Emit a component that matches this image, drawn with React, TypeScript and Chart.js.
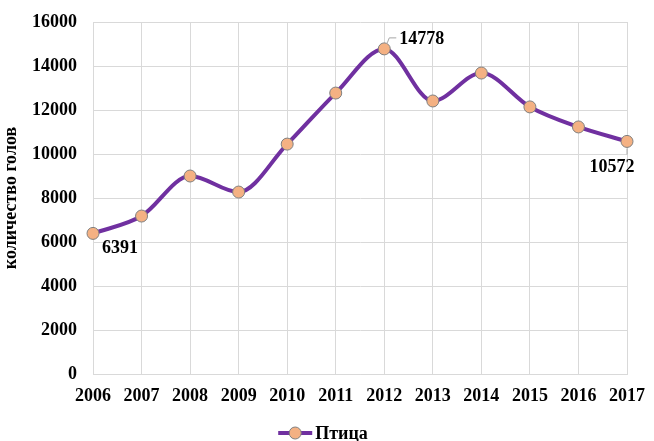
import React, { useEffect, useRef } from "react";
import { Chart, registerables } from "chart.js";

Chart.register(...registerables);

const years = ["2006", "2007", "2008", "2009", "2010", "2011", "2012", "2013", "2014", "2015", "2016", "2017"];
const poultry = [6391, 7180, 9000, 8270, 10450, 12770, 14778, 12410, 13680, 12140, 11230, 10572];
const seriesName = "Птица";
const yTitle = "количество голов";
const labeledIndexes = [0, 6, 11];

const FONT = "'Liberation Serif', 'Times New Roman', serif";
const LINE = "#7030A0";
const POINT_FILL = "#F4B183";
const POINT_BORDER = "#7F7F7F";

const labelPlugin = {
  id: "valueLabels",
  afterDatasetsDraw(chart: any) {
    const meta = chart.getDatasetMeta(0);
    const ctx = chart.ctx;
    ctx.save();
    ctx.font = `bold 18px ${FONT}`;
    ctx.fillStyle = "#000";
    ctx.strokeStyle = "#A6A6A6";
    ctx.lineWidth = 1;
    labeledIndexes.forEach((i) => {
      const p = meta.data[i];
      const v = String(poultry[i]);
      if (i === 0) {
        ctx.textAlign = "left";
        ctx.textBaseline = "middle";
        ctx.fillText(v, p.x + 9, p.y + 15);
      } else if (i === labeledIndexes[1]) {
        ctx.beginPath();
        ctx.moveTo(p.x + 3, p.y - 6);
        ctx.lineTo(p.x + 5, p.y - 11);
        ctx.lineTo(p.x + 12, p.y - 11);
        ctx.stroke();
        ctx.textAlign = "left";
        ctx.textBaseline = "middle";
        ctx.fillText(v, p.x + 15, p.y - 10);
      } else {
        ctx.beginPath();
        ctx.moveTo(p.x, p.y + 7);
        ctx.lineTo(p.x, p.y + 13);
        ctx.stroke();
        ctx.textAlign = "center";
        ctx.textBaseline = "middle";
        ctx.fillText(v, p.x - 15, p.y + 26);
      }
    });
    ctx.restore();
  },
};

const legendPlugin = {
  id: "customLegend",
  afterDraw(chart: any) {
    const ctx = chart.ctx;
    ctx.save();
    ctx.font = `bold 18px ${FONT}`;
    const tw = ctx.measureText(seriesName).width;
    const iconW = 34;
    const gap = 3;
    const total = iconW + gap + tw;
    const x0 = chart.width / 2 - total / 2 - 4;
    const y = 433;
    ctx.strokeStyle = LINE;
    ctx.lineWidth = 4;
    ctx.beginPath();
    ctx.moveTo(x0, y);
    ctx.lineTo(x0 + iconW, y);
    ctx.stroke();
    ctx.beginPath();
    ctx.arc(x0 + iconW / 2, y, 6, 0, Math.PI * 2);
    ctx.fillStyle = POINT_FILL;
    ctx.fill();
    ctx.lineWidth = 1;
    ctx.strokeStyle = POINT_BORDER;
    ctx.stroke();
    ctx.fillStyle = "#000";
    ctx.textAlign = "left";
    ctx.textBaseline = "middle";
    ctx.fillText(seriesName, x0 + iconW + gap, y + 1);
    ctx.restore();
  },
};

export default function App() {
  const ref = useRef<HTMLCanvasElement>(null);
  useEffect(() => {
    document.body.style.margin = "0";
    const chart = new Chart(ref.current!, {
      type: "line",
      data: {
        labels: years,
        datasets: [
          {
            label: seriesName,
            data: poultry,
            borderColor: LINE,
            borderWidth: 4,
            tension: 0.4,
            cubicInterpolationMode: "monotone",
            pointRadius: 6,
            pointBackgroundColor: POINT_FILL,
            pointBorderColor: POINT_BORDER,
            pointBorderWidth: 1,
            pointStyle: "circle",
          },
        ],
      },
      options: {
        animation: false,
        responsive: false,
        maintainAspectRatio: false,
        layout: { padding: { top: 22, right: 27, left: 0, bottom: 22 } },
        plugins: {
          tooltip: { enabled: false },
          legend: { display: false },
        },
        scales: {
          x: {
            offset: false,
            grid: { color: "#D9D9D9", lineWidth: 1, drawTicks: false },
            border: { color: "#D9D9D9" },
            ticks: { font: { family: FONT, size: 18, weight: "bold" }, color: "#000", padding: 12, maxRotation: 0 },
            afterFit: (s: any) => {
              s.height = 45;
              s.paddingLeft = 0;
              s.paddingRight = 0;
            },
          },
          y: {
            min: 0,
            max: 16000,
            grid: { color: "#D9D9D9", lineWidth: 1, drawTicks: false },
            border: { color: "#D9D9D9" },
            ticks: {
              stepSize: 2000,
              font: { family: FONT, size: 18, weight: "bold" },
              color: "#000",
              padding: 16,
              callback: (v: any) => String(v),
            },
            title: { display: true, text: yTitle, font: { family: FONT, size: 18, weight: "bold" }, color: "#000", padding: 1 },
            afterFit: (s: any) => {
              s.width = 93;
              s.paddingTop = 0;
              s.paddingBottom = 0;
            },
          },
        },
      },
      plugins: [labelPlugin, legendPlugin],
    });
    return () => chart.destroy();
  }, []);
  return (
    <div style={{ width: 654, height: 441 }}>
      <canvas ref={ref} width={654} height={441} style={{ display: "block" }} />
    </div>
  );
}
